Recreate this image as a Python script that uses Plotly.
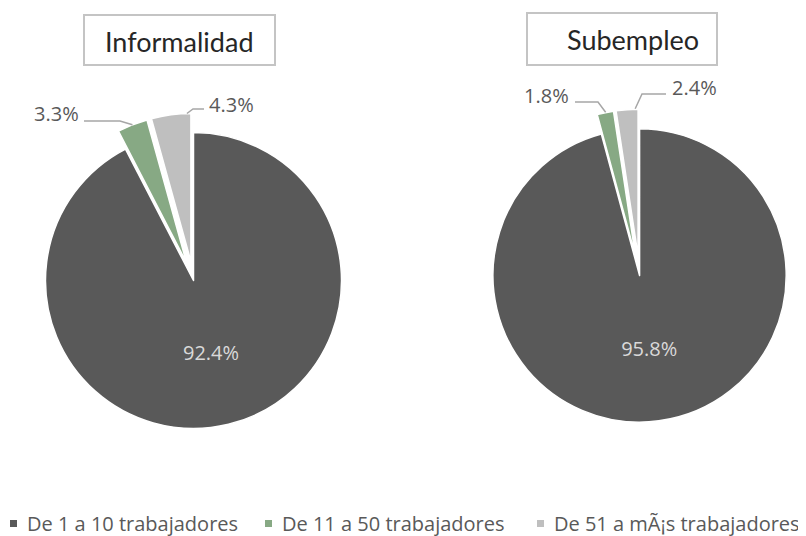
import math
import plotly.graph_objects as go

# ---------------- data ----------------
categories = ["De 1 a 10 trabajadores", "De 11 a 50 trabajadores", "De 51 a mÃ¡s trabajadores"]
informalidad = [92.4, 3.3, 4.3]
subempleo = [95.8, 1.8, 2.4]
titles = ["Informalidad", "Subempleo"]

# ---------------- style ----------------
colors = ["#595959", "#87a984", "#bfbfbf"]
OFF = 8                      # page body margin of the browser
W, H = 806 - OFF, 536 - OFF  # figure size
TXT = "#595959"
LINE = "#a6a6a6"


def px(x):
    return (x - OFF) / W


def py(y):
    return 1 - (y - OFF) / H


panels = [
    dict(title=titles[0], values=informalidad, cx=193.5, cy=280.5, r=148, pull=0.13,
         box=(84, 15, 275, 65), title_xy=(179.5, 41),
         labels=[None,
                 dict(frac=0.5, elbow=(120, 121), end=(84, 121), pos=(81, 113), anchor="right"),
                 dict(frac=0.9, elbow=(193, 109), end=(204, 109), pos=(207, 104), anchor="left")]),
    dict(title=titles[1], values=subempleo, cx=640, cy=275.5, r=147, pull=0.135,
         box=(527, 13, 717, 65), title_xy=(633, 40),
         labels=[None,
                 dict(frac=0.5, elbow=(598, 102), end=(575, 102), pos=(571, 96), anchor="right"),
                 dict(frac=0.85, elbow=(642, 94), end=(666, 94), pos=(670, 88), anchor="left")]),
]

fig = go.Figure()
shapes = []
annotations = []

for p in panels:
    vals = p["values"]
    R = p["r"] * (1 + p["pull"])
    dom_x = [max(0, px(p["cx"] - R)), min(1, px(p["cx"] + R))]
    dom_y = [py(p["cy"] + R), py(p["cy"] - R)]
    fig.add_trace(go.Pie(
        labels=categories, values=vals, sort=False, direction="clockwise", rotation=0,
        marker=dict(colors=colors, line=dict(color="white", width=1.5)),
        pull=[0, p["pull"], p["pull"]],
        text=[f"{vals[0]:.1f}%", "", ""], textinfo="text", textposition="inside",
        insidetextorientation="horizontal",
        insidetextfont=dict(color="#d9d9d9", size=20, family="Open Sans"),
        domain=dict(x=dom_x, y=dom_y), showlegend=False, hoverinfo="label+value",
    ))

    # title box + title text
    x0, y0, x1, y1 = p["box"]
    shapes.append(dict(type="rect", xref="paper", yref="paper",
                       x0=px(x0), x1=px(x1), y0=py(y1), y1=py(y0),
                       line=dict(color="#c4c4c4", width=2), fillcolor="white"))
    annotations.append(dict(text=p["title"], x=px(p["title_xy"][0]), y=py(p["title_xy"][1]),
                            xref="paper", yref="paper", showarrow=False,
                            xanchor="center", yanchor="middle",
                            font=dict(family="Lato", size=27, color="#262626")))

    # outside labels with leader lines, anchored on slices computed from the data
    total = sum(vals)
    cum = 0.0
    for i, v in enumerate(vals):
        start = cum / total * 360
        end = (cum + v) / total * 360
        cum += v
        lab = p["labels"][i]
        if lab is None:
            continue
        mid = math.radians((start + end) / 2)
        phi = math.radians(start + lab["frac"] * (end - start))
        d = p["pull"] * p["r"]
        ax = p["cx"] + d * math.sin(mid) + p["r"] * math.sin(phi)
        ay = p["cy"] - d * math.cos(mid) - p["r"] * math.cos(phi)
        ex, ey = lab["elbow"]
        tx, ty = lab["end"]
        path = f"M {px(ax)},{py(ay)} L {px(ex)},{py(ey)} L {px(tx)},{py(ty)}"
        shapes.append(dict(type="path", xref="paper", yref="paper", path=path,
                           line=dict(color=LINE, width=1.5)))
        annotations.append(dict(text=f"{v:.1f}%", x=px(lab["pos"][0]), y=py(lab["pos"][1]),
                                xref="paper", yref="paper", showarrow=False,
                                xanchor=lab["anchor"], yanchor="middle",
                                font=dict(family="Open Sans", size=20, color=TXT)))

# legend (swatches + labels)
legend_x = [10, 265, 537]
legend_y = 523
for cat, col, lx in zip(categories, colors, legend_x):
    shapes.append(dict(type="rect", xref="paper", yref="paper",
                       x0=px(lx), x1=px(lx + 7), y0=py(legend_y + 4), y1=py(legend_y - 3),
                       line=dict(width=0), fillcolor=col))
    annotations.append(dict(text=cat, x=px(lx + 15), y=py(legend_y), xref="paper", yref="paper",
                            showarrow=False, xanchor="left", yanchor="middle",
                            font=dict(family="Open Sans", size=20, color=TXT)))

fig.update_layout(
    width=W, height=H, margin=dict(l=0, r=0, t=0, b=0),
    paper_bgcolor="white", plot_bgcolor="white", showlegend=False,
    shapes=shapes, annotations=annotations,
)

fig.write_html("out.html")
